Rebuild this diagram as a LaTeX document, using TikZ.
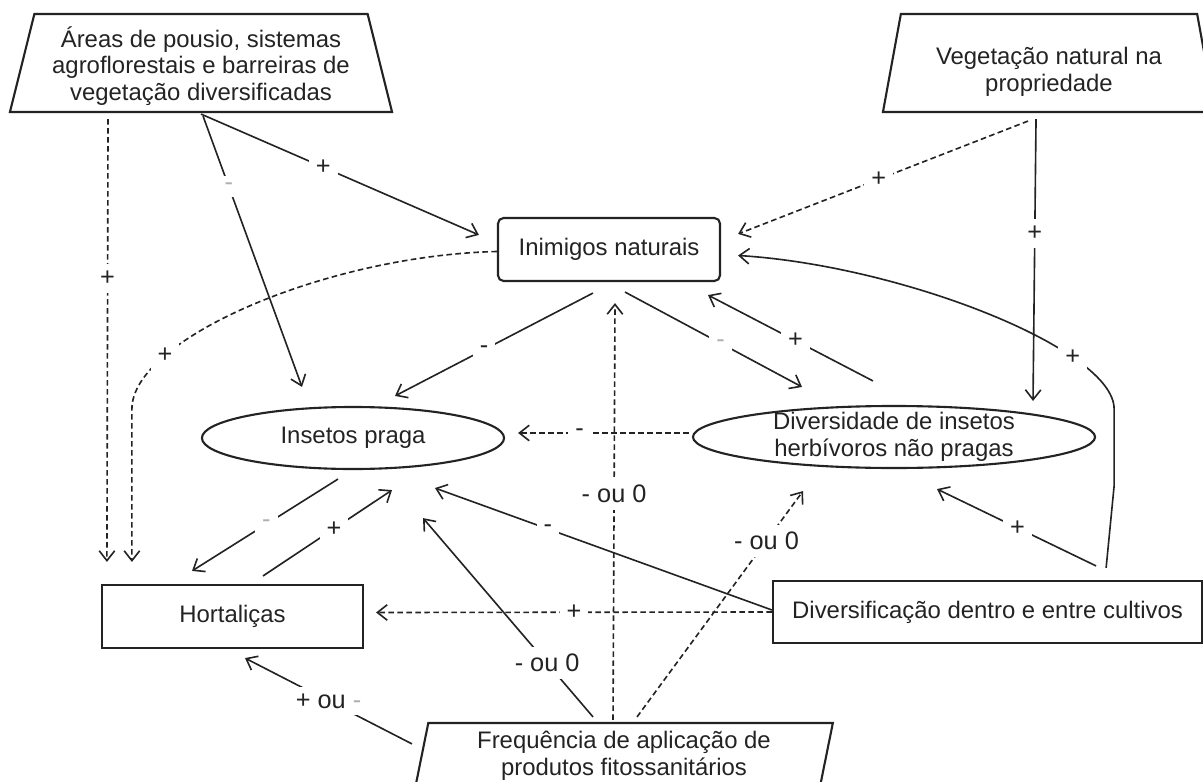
\documentclass[tikz,border=0pt]{standalone}
\usepackage{fontspec}
\setmainfont{Liberation Sans}
\usetikzlibrary{shapes.geometric, arrows.meta, calc}
\definecolor{inkgray}{RGB}{35,35,35}
\definecolor{fadegray}{RGB}{175,175,175}

\begin{document}
\begin{tikzpicture}[x=0.025cm, y=-0.025cm,
    every node/.style={font=\fontsize{17}{19}\selectfont, text=inkgray},
    frame/.style={draw=inkgray, line width=1.5pt, align=center},
    boxnode/.style={frame, rectangle, inner sep=0pt},
    ovalnode/.style={frame, ellipse, inner xsep=0pt, inner ysep=-4pt},
    trapnode/.style={frame, trapezium, trapezium stretches body, inner sep=0pt},
    link/.style={draw=inkgray, line width=1.15pt, -{Straight Barb[length=7pt,width=11pt]}},
    dlink/.style={link, dash pattern=on 4pt off 2.4pt},
    sign/.style={fill=white, inner sep=5pt, font=\fontsize{18}{20}\selectfont},
    faintsign/.style={sign, text=fadegray}]

    \useasboundingbox (0,0) rectangle (1203,782);
    \clip (0,0) rectangle (1203,782);

    % Factors
    \node[trapnode, trapezium left angle=74, trapezium right angle=74,
          minimum width=9.55cm, minimum height=2.45cm] (areas) at (201,63)
        {\rule{0pt}{19pt}Áreas de pousio, sistemas\\agroflorestais e barreiras de\\vegetação diversificadas};
    \node[trapnode, trapezium left angle=75, trapezium right angle=75,
          minimum width=8.3cm, minimum height=2.45cm] (veg) at (1049,63)
        {\rule{0pt}{25pt}Vegetação natural na\\propriedade};
    \node[boxnode, rounded corners=4pt, minimum width=5.55cm, minimum height=1.575cm] (inim) at (609,249.5) {Inimigos naturais};
    \node[ovalnode, minimum width=7.55cm, minimum height=1.55cm] (praga) at (353,438) {Insetos praga};
    \node[ovalnode, minimum width=10.05cm, minimum height=1.55cm] (divh) at (894,437)
        {Diversidade de insetos\\herbívoros não pragas};
    \node[boxnode, minimum width=6.525cm, minimum height=1.575cm] (hort) at (232.5,616.5) {Hortaliças};
    \node[boxnode, minimum width=10.725cm, minimum height=1.55cm] (divc) at (987.5,612)
        {Diversificação dentro e entre cultivos};
    \node[trapnode, trapezium left angle=75, trapezium right angle=105,
          minimum width=10.44cm, minimum height=1.625cm] (freq) at (624,755.5)
        {Frequência de aplicação de\\produtos fitossanitários};

    % Effects of the landscape
    \draw[dlink] ($(areas.south)+(-93,6)$) -- node[sign, pos=0.36] {+} ($(hort.north west)+(6,-22)$);
    \draw[link] ($(areas.south)+(0,1)$) -- node[sign, pos=0.44] {+} ($(inim.north west)+(-18,18)$);
    \draw[link] ($(areas.south)+(2,3)$) -- node[faintsign, pos=0.26] {-} ($(praga.north)+(-51,-19)$);
    \draw[dlink] ($(veg.south)+(-21,8)$) -- node[sign, pos=0.515] {+} ($(inim.north east)+(17,17)$);
    \draw[link] ($(veg.south)+(-13,6)$) -- node[sign, pos=0.405] {+} ($(divh.north)+(139,-4)$);

    % Natural enemies
    \draw[dlink] ($(inim.west)+(0,2)$) .. controls +(-170,4) and +(0,-70) .. node[sign, pos=0.75] {+}
        ($(hort.north west)+(31,-175)$) -- ($(hort.north west)+(31,-22)$);
    \draw[link] ($(inim.south)+(-16,11)$) -- node[sign, pos=0.55] {-} ($(praga.north)+(42,-10)$);
    \draw[link] ($(inim.south)+(16,10)$) -- node[faintsign, pos=0.54] {-} ($(divh.north)+(-92,-18)$);
    \draw[link] ($(divh.north)+(-21,-24)$) -- node[sign, pos=0.47] {+} ($(inim.south)+(99,13)$);
    \draw[dlink] ($(divh.west)+(-3,-4)$) -- node[sign, pos=0.64] {-} ($(praga.east)+(13,-5)$);

    % Pests and crops
    \draw[link] ($(praga.south)+(-15,9)$) -- node[faintsign, pos=0.49] {-} ($(hort.north)+(-40.5,-13)$);
    \draw[link] ($(hort.north)+(30.5,-8)$) -- node[sign, pos=0.55] {+} ($(praga.south)+(39,20)$);

    % Crop diversification
    \draw[link] ($(divc.west)+(0,-2)$) -- node[sign, pos=0.665] {-} ($(praga.south)+(82,18)$);
    \draw[dlink] (divc.west) -- node[sign, pos=0.5] {+} ($(hort.east)+(12,-4)$);
    \draw[link] ($(divc.north east)+(-107,-14)$) -- node[sign, pos=0.494] {+} ($(divh.south)+(43,20)$);
    \draw[link] ($(divc.north east)+(-97,-12)$) -- ++(8,-82) -- ++(0,-77)
        .. controls +(0,-60) and +(163,10) .. node[sign, pos=0.27] {+} ($(inim.east)+(17,6)$);

    % Pesticide applications
    \draw[dlink] ($(freq.north)+(-11,-2)$) -- node[sign, pos=0.543] {- ou 0} ($(inim.south)+(6,21)$);
    \draw[link] ($(freq.north)+(-31,-5)$) -- node[sign, pos=0.27] {- ou 0} ($(praga.south)+(70,48)$);
    \draw[dlink] ($(freq.north)+(13,-5)$) -- node[sign, pos=0.78] {- ou 0} ($(divh.south)+(-91,22)$);
    \draw[link] ($(freq.north)+(-212,22)$) -- node[sign, pos=0.5] {+ ou \textcolor{fadegray}{-}} ($(hort.south)+(12.5,9)$);
\end{tikzpicture}
\end{document}
